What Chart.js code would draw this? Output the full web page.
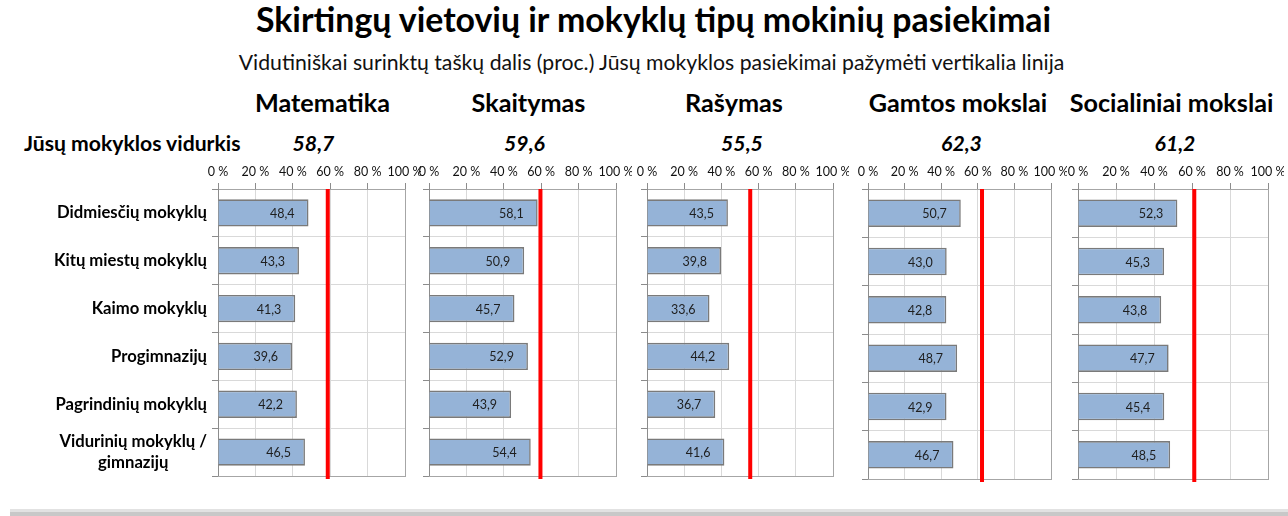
<!DOCTYPE html>
<html><head><meta charset="utf-8">
<script src="https://cdn.jsdelivr.net/npm/chart.js@4.4.1/dist/chart.umd.min.js"></script>
<style>
html,body{margin:0;padding:0;background:#fff;width:1288px;height:516px;overflow:hidden;font-family:Lato,"Open Sans",sans-serif;position:relative}
.t{position:absolute;white-space:nowrap;color:#000;line-height:1.2}
canvas{position:absolute}
#foot{position:absolute;left:10px;top:509px;width:1278px;height:7px;background:linear-gradient(#e2e2e2 0,#e2e2e2 50%,#c8c8c8 50%,#c8c8c8 100%)}
</style></head><body>
<div id="foot"></div>
<script>
// ---------- data ----------
const categories = ['Didmiesčių mokyklų','Kitų miestų mokyklų','Kaimo mokyklų','Progimnazijų','Pagrindinių mokyklų',['Vidurinių mokyklų /','gimnazijų']];
const subjects = ['Matematika','Skaitymas','Rašymas','Gamtos mokslai','Socialiniai mokslai'];
const schoolAvg = [58.7, 59.6, 55.5, 62.3, 61.2];
const matematika = [48.4, 43.3, 41.3, 39.6, 42.2, 46.5];
const skaitymas  = [58.1, 50.9, 45.7, 52.9, 43.9, 54.4];
const rasymas    = [43.5, 39.8, 33.6, 44.2, 36.7, 41.6];
const gamtos     = [50.7, 43.0, 42.8, 48.7, 42.9, 46.7];
const socialiniai= [52.3, 45.3, 43.8, 47.7, 45.4, 48.5];
const tickLabels = ['0 %','20 %','40 %','60 %','80 %','100 %'];
const seriesBySubject = [matematika, skaitymas, rasymas, gamtos, socialiniai];
const titleText = 'Skirtingų vietovių ir mokyklų tipų mokinių pasiekimai';
const subtitleText = 'Vidutiniškai surinktų taškų dalis (proc.) Jūsų mokyklos pasiekimai pažymėti vertikalia linija';
const avgLabel = 'Jūsų mokyklos vidurkis';

// ---------- layout ----------
const FONT = 'Lato';
const panels = [
  {x0:218, x1:405, bottom:476},
  {x0:429, x1:616, bottom:476},
  {x0:647, x1:833, bottom:476},
  {x0:868, x1:1051, bottom:479},
  {x0:1078, x1:1268, bottom:479}
];
const plotTop = 189, canvasTop = 150;
const headerCenters = [322.5, 528.5, 734, 958, 1171.5];

const mctx = document.createElement('canvas').getContext('2d');
function fitSize(text, weight, style, target){
  mctx.font = `${style} ${weight} 100px ${FONT}`;
  return 100*target/mctx.measureText(text).width;
}
function addText(txt, o){
  const d = document.createElement('div');
  d.className = 't';
  d.style.font = `${o.style||'normal'} ${o.weight||400} ${o.size}px ${FONT}`;
  d.style.color = o.color || '#000';
  d.appendChild(document.createTextNode(txt));
  const m = document.createElement('span');
  m.style.cssText = 'display:inline-block;width:0;height:0;vertical-align:baseline';
  d.appendChild(m);
  d.style.left = '0px'; d.style.top = '0px';
  document.body.appendChild(d);
  const w = d.getBoundingClientRect().width;
  const by = m.getBoundingClientRect().top;
  d.style.top = (o.baseline - by) + 'px';
  const left = o.left != null ? o.left : (o.center != null ? o.center - w/2 : o.right - w);
  d.style.left = left + 'px';
}

// titles
addText(titleText, {center:653.5, baseline:32, weight:700, size:fitSize(titleText,700,'normal',797)});
addText(subtitleText, {center:651.5, baseline:70, weight:400, size:fitSize(subtitleText,400,'normal',827), color:'#111'});
const hSize = fitSize('Matematika',700,'normal',135);
subjects.forEach((s,i)=>addText(s,{center:headerCenters[i], baseline:112, weight:700, size:hSize}));
const aSize = fitSize(avgLabel,700,'normal',217);
addText(avgLabel,{left:24, baseline:151, weight:700, size:aSize});
schoolAvg.forEach((v,i)=>addText(v.toFixed(1).replace('.',','),{center:(panels[i].x0+panels[i].x1)/2+2, baseline:151, weight:700, style:'italic', size:aSize}));

// ---------- plugins ----------
const fmt = v => v.toFixed(1).replace('.',',');
const framePlugin = {
  id:'frame',
  afterDraw(chart){
    const {ctx, chartArea:a} = chart;
    ctx.save(); ctx.strokeStyle = '#a6a6a6'; ctx.lineWidth = 1;
    ctx.beginPath();
    ctx.moveTo(Math.round(a.right)+0.5, a.top); ctx.lineTo(Math.round(a.right)+0.5, a.bottom+0.5);
    ctx.moveTo(a.left, Math.round(a.bottom)+0.5); ctx.lineTo(a.right+1, Math.round(a.bottom)+0.5);
    ctx.stroke(); ctx.restore();
  }
};
const valuePlugin = {
  id:'vals',
  afterDatasetsDraw(chart){
    const {ctx} = chart;
    const ds = chart.data.datasets[0];
    const meta = chart.getDatasetMeta(0);
    ctx.save();
    ctx.font = `400 12.5px ${FONT}`; ctx.fillStyle = '#1e1e1e';
    ctx.textAlign = 'right'; ctx.textBaseline = 'middle';
    meta.data.forEach((bar,i)=>ctx.fillText(fmt(ds.data[i]), bar.x - 14, bar.y + 1));
    ctx.restore();
  }
};
const avgPlugin = {
  id:'avg',
  afterDraw(chart, args, opts){
    const {ctx, chartArea:a} = chart;
    const x = chart.scales.x.getPixelForValue(opts.value);
    ctx.save(); ctx.strokeStyle = '#ff0000'; ctx.lineWidth = 4;
    ctx.beginPath(); ctx.moveTo(x, a.top); ctx.lineTo(x, a.bottom + 3); ctx.stroke();
    ctx.restore();
  }
};
const catSize = fitSize('Didmiesčių mokyklų',700,'normal',150);
const catPlugin = {
  id:'cats',
  afterDraw(chart){
    const {ctx, chartArea:a} = chart;
    const y = chart.scales.y;
    ctx.save();
    ctx.font = `700 ${catSize}px ${FONT}`; ctx.fillStyle = '#000';
    ctx.textBaseline = 'middle'; ctx.textAlign = 'center';
    const right = a.left - 11;
    chart.data.labels.forEach((lab,i)=>{
      const lines = Array.isArray(lab) ? lab : [lab];
      const bw = Math.max(...lines.map(l=>ctx.measureText(l).width));
      const lh = 21;
      const cy = y.getPixelForValue(i);
      lines.forEach((l,k)=>ctx.fillText(l, right - bw/2, cy + (k - (lines.length-1)/2)*lh));
    });
    ctx.restore();
  }
};

// ---------- charts ----------
panels.forEach((p,i)=>{
  const yW = i===0 ? 218 : 8;
  const padL = i===0 ? 0 : 14;
  const padR = 16, padB = 8;
  const c = document.createElement('canvas');
  const w = (p.x1 - p.x0) + yW + padL + padR;
  const h = p.bottom - canvasTop + padB;
  c.width = w; c.height = h;
  c.style.left = (p.x0 - yW - padL) + 'px';
  c.style.top = canvasTop + 'px';
  c.style.width = w + 'px'; c.style.height = h + 'px';
  document.body.appendChild(c);
  new Chart(c, {
    type:'bar',
    data:{labels:categories, datasets:[{
      data:seriesBySubject[i],
      backgroundColor:'#95b3d7', borderColor:'#7a7a7a', borderWidth:1.6, borderSkipped:'start',
      barPercentage:0.57, categoryPercentage:1
    }]},
    options:{
      indexAxis:'y', responsive:false, animation:false, devicePixelRatio:1,
      layout:{padding:{left:padL, right:padR, top:0, bottom:padB}},
      plugins:{legend:{display:false}, tooltip:{enabled:false}, avg:{value:schoolAvg[i]}},
      scales:{
        x:{position:'top', min:0, max:100,
          ticks:{stepSize:20, autoSkip:false, maxRotation:0, padding:4, color:'#111',
            font:{size:12.5, family:FONT}, callback:(v,k)=>tickLabels[k]},
          grid:{color:'#d9d9d9', tickColor:'#8c8c8c', tickLength:6},
          border:{color:'#a6a6a6'},
          afterFit:s=>{s.height = plotTop - canvasTop; s.paddingLeft = 0; s.paddingRight = 0;}
        },
        y:{ticks:{display:false},
          grid:{color:'#d9d9d9', tickColor:'#8c8c8c', tickLength:6, offset:true},
          border:{color:'#8c8c8c'},
          afterFit:s=>{s.width = yW;}
        }
      }
    },
    plugins: i===0 ? [framePlugin, valuePlugin, avgPlugin, catPlugin] : [framePlugin, valuePlugin, avgPlugin]
  });
});
</script>
</body></html>
